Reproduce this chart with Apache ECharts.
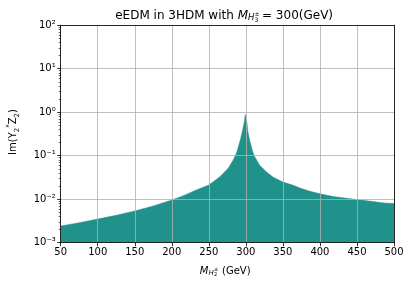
<!DOCTYPE html>
<html><head><meta charset="utf-8">
<script src="https://cdn.jsdelivr.net/npm/echarts@6/dist/echarts.min.js"></script>
<style>html,body{margin:0;padding:0;background:#fff}#c{width:411px;height:286px}</style>
</head><body><div id="c"></div>
<script>
// M_{H2±} in GeV
const massH2 = [50,60,75,100,125,150,175,200,215,233,250,265,276.4,283.2,287.6,292.2,295.3,298,299.2,301.5,302.7,303.8,305.6,307.3,309.2,311.9,318.6,328,337,350,364,373,386.6,400,418,436,450,472,486,500];
// Im(Y2* Z2)
const imY2Z2 = [2.42e-3,2.6e-3,2.88e-3,3.5e-3,4.27e-3,5.36e-3,6.98e-3,9.6e-3,1.19e-2,1.63e-2,2.12e-2,3.29e-2,5.2e-2,8.1e-2,0.118,0.22,0.363,0.617,0.88,0.565,0.356,0.333,0.21,0.164,0.124,0.095,0.06,0.042,0.0318,0.0248,0.0209,0.018,0.0152,0.0133,0.0115,0.0105,0.0098,0.0088,0.0082,0.0080];
const xTicks = [50,100,150,200,250,300,350,400,450,500];
const yTicks = [1e-3,1e-2,1e-1,1e0,1e1,1e2];
const yMinorTicks = [];
for (let e = -3; e < 2; e++) for (let m = 2; m <= 9; m++) yMinorTicks.push(m * Math.pow(10, e));

const FONT = 'DejaVu Sans';
const sup = {'-':'\u207B','0':'\u2070','1':'\u00B9','2':'\u00B2','3':'\u00B3'};
function expLabel(v){
  const e = Math.round(Math.log10(v));
  return '10' + String(e).split('').map(c => sup[c]).join('');
}
function txt(x, y, text, size, align, italic){
  return {type:'text', x:x, y:y, z:10, style:{text:text, fontSize:size, fontFamily:FONT,
    fontStyle: italic ? 'italic' : 'normal', fill:'#000', align:align, verticalAlign:'middle'}};
}
const axisLineStyle = {color:'#000', width:0.8};
const chart = echarts.init(document.getElementById('c'), null, {renderer:'canvas'});
chart.setOption({
  animation:false,
  backgroundColor:'#fff',
  grid:{left:60.7, right:17, top:25.2, bottom:43.3, containLabel:false},
  xAxis:[{
    type:'value', min:50, max:500, interval:50, z:5,
    axisLine:{show:true, onZero:false, lineStyle:axisLineStyle},
    axisTick:{show:true, length:3.5, lineStyle:axisLineStyle},
    axisLabel:{color:'#000', fontSize:10, fontFamily:FONT, margin:5, showMinLabel:true, showMaxLabel:true, customValues:xTicks},
    splitLine:{show:true, lineStyle:{color:'#b0b0b0', width:0.8}}
  },{
    type:'value', position:'top', min:50, max:500, interval:50, z:5,
    axisLine:{show:true, onZero:false, lineStyle:axisLineStyle},
    axisTick:{show:false}, axisLabel:{show:false}, splitLine:{show:false}
  }],
  yAxis:[{
    type:'log', logBase:10, min:1e-3, max:1e2, interval:1, z:5,
    axisLine:{show:true, onZero:false, lineStyle:axisLineStyle},
    axisTick:{show:true, length:3.5, lineStyle:axisLineStyle},
    axisLabel:{color:'#000', fontSize:10, fontFamily:FONT, margin:5, formatter:expLabel, showMinLabel:true, showMaxLabel:true},
    splitLine:{show:true, lineStyle:{color:'#b0b0b0', width:0.8}}
  },{
    type:'log', logBase:10, min:1e-3, max:1e2, position:'left', z:5,
    axisLine:{show:false},
    axisTick:{show:true, length:2, customValues:yMinorTicks, lineStyle:{color:'#000', width:0.6}},
    axisLabel:{show:false}, splitLine:{show:false}
  },{
    type:'log', logBase:10, min:1e-3, max:1e2, position:'right', z:5,
    axisLine:{show:true, onZero:false, lineStyle:axisLineStyle},
    axisTick:{show:false}, axisLabel:{show:false}, splitLine:{show:false}
  }],
  series:[{
    type:'line', xAxisIndex:0, yAxisIndex:0, z:2,
    data: massH2.map((x,i)=>[x, imY2Z2[i]]),
    showSymbol:false, symbol:'none',
    lineStyle:{width:0.5, color:'#21918c'},
    itemStyle:{color:'#21918c'},
    areaStyle:{color:'#21918c', opacity:1, origin:'start'}
  }],
  graphic:[
    // title
    {type:'text', x:248, y:15.5, z:10, style:{
      text:'{n|eEDM in 3HDM with }{i|M}', align:'right', verticalAlign:'middle', fill:'#000',
      rich:{n:{fontSize:12, fontFamily:FONT, fill:'#000'}, i:{fontSize:12, fontFamily:FONT, fontStyle:'italic', fill:'#000'}}
    }},
    txt(248, 18, 'H', 8.5, 'left', true),
    txt(254.5, 14, '\u00B1', 6, 'left', false),
    txt(254.5, 20, '3', 6, 'left', false),
    txt(262, 15.5, '= 300(GeV)', 12, 'left', false),
    // x axis name
    txt(208.5, 271, 'M', 10, 'right', true),
    txt(208.5, 273.5, 'H', 7, 'left', true),
    txt(214, 269.5, '\u00B1', 5, 'left', false),
    txt(214, 275, '2', 5, 'left', false),
    txt(222, 271, '(GeV)', 10, 'left', false),
    // y axis name
    {type:'text', x:13, y:132, rotation:Math.PI/2, z:10,
    style:{
      text:'{n|Im(Y}{ss|2}{sp|*}{n|Z}{s|2}{n|)}',
      align:'center', verticalAlign:'middle', fill:'#000',
      rich:{
        n:{fontSize:10, fontFamily:FONT, fill:'#000', lineHeight:15},
        s:{fontSize:7, fontFamily:FONT, fill:'#000', verticalAlign:'bottom', lineHeight:11},
        ss:{fontSize:7, fontFamily:FONT, fill:'#000', verticalAlign:'bottom', lineHeight:11},
        sp:{fontSize:7, fontFamily:FONT, fill:'#000', verticalAlign:'top', lineHeight:13}
      }
    }}
  ]
});
</script></body></html>
